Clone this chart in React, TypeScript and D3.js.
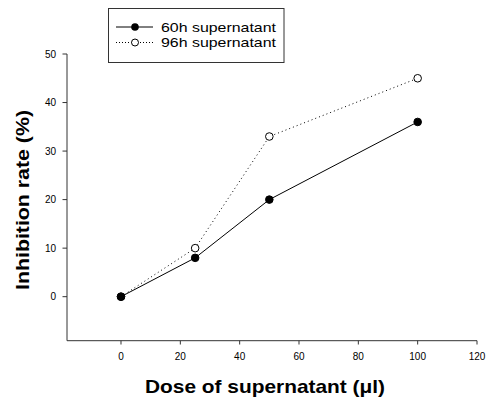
import React from "react";
import * as d3 from "d3";

const doses = [0, 25, 50, 100];
const series60 = [0, 8, 20, 36];
const series96 = [0, 10, 33, 45];
const seriesNames = ["60h supernatant", "96h supernatant"];
const xTicks = [0, 20, 40, 60, 80, 100, 120];
const yTicks = [0, 10, 20, 30, 40, 50];

const W = 489;
const H = 403;

export default function App() {
  const x = d3.scaleLinear().domain([-18.2, 120]).range([67, 477]);
  const y = d3.scaleLinear().domain([-9.07, 50]).range([340.7, 54]);
  const line = d3
    .line<[number, number]>()
    .x((d) => x(d[0]))
    .y((d) => y(d[1]));
  const d60: [number, number][] = doses.map((v, i) => [v, series60[i]]);
  const d96: [number, number][] = doses.map((v, i) => [v, series96[i]]);
  const font = "'Liberation Sans', Arial, sans-serif";
  return (
    <svg
      width={W}
      height={H}
      style={{ position: "absolute", left: 0, top: 0, background: "#fff" }}
      fontFamily={font}
    >
      {/* axes */}
      <line x1={x(-18.2)} x2={x(120)} y1={340.7} y2={340.7} stroke="#333" strokeWidth={1} />
      <line x1={67} x2={67} y1={y(50)} y2={340.7} stroke="#333" strokeWidth={1} />
      {xTicks.map((t) => (
        <g key={"x" + t}>
          <line x1={x(t)} x2={x(t)} y1={340.7} y2={344.5} stroke="#333" />
          <text x={x(t)} y={360} textAnchor="middle" fontSize={10} fill="#000">
            {t}
          </text>
        </g>
      ))}
      {yTicks.map((t) => (
        <g key={"y" + t}>
          <line x1={62.5} x2={67} y1={y(t)} y2={y(t)} stroke="#333" />
          <text x={56} y={y(t) + 3.6} textAnchor="end" fontSize={10} fill="#000">
            {t}
          </text>
        </g>
      ))}
      <text
        x={265}
        y={393}
        textAnchor="middle"
        fontSize={18.5}
        fontWeight="bold"
        textLength={240}
        lengthAdjust="spacingAndGlyphs"
      >
        Dose of supernatant (μl)
      </text>
      <text
        transform={`translate(29,200) rotate(-90)`}
        textAnchor="middle"
        fontSize={18.5}
        fontWeight="bold"
        textLength={180}
        lengthAdjust="spacingAndGlyphs"
      >
        Inhibition rate (%)
      </text>
      {/* series */}
      <path d={line(d96) || ""} fill="none" stroke="#000" strokeWidth={1} strokeDasharray="1,3" />
      <path d={line(d60) || ""} fill="none" stroke="#000" strokeWidth={1} />
      {d96.map((d, i) => (
        <circle key={"b" + i} cx={x(d[0])} cy={y(d[1])} r={3.8} fill="#fff" stroke="#000" strokeWidth={1} />
      ))}
      {d60.map((d, i) => (
        <circle key={"a" + i} cx={x(d[0])} cy={y(d[1])} r={3.8} fill="#000" stroke="#000" strokeWidth={1} />
      ))}
      {/* legend */}
      <rect x={108.5} y={8.5} width={175.5} height={54} fill="#fff" stroke="#333" strokeWidth={1} />
      <line x1={116} x2={153} y1={27} y2={27} stroke="#000" />
      <circle cx={135} cy={27} r={3.8} fill="#000" />
      <line x1={116} x2={153} y1={42.5} y2={42.5} stroke="#000" strokeDasharray="1,2" />
      <circle cx={135} cy={42.5} r={3.5} fill="#fff" stroke="#000" />
      <text x={161} y={31.6} fontSize={13.5} textLength={115} lengthAdjust="spacingAndGlyphs">
        {seriesNames[0]}
      </text>
      <text x={161} y={47} fontSize={13.5} textLength={115} lengthAdjust="spacingAndGlyphs">
        {seriesNames[1]}
      </text>
    </svg>
  );
}
